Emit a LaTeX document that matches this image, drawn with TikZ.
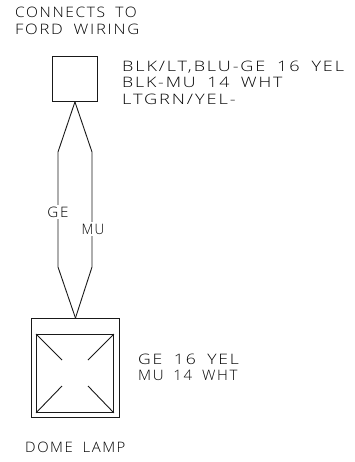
\documentclass[tikz,border=0pt]{standalone}
\usepackage{fontspec}
\usepackage{graphicx}
\setmainfont{Open Sans Light}[LetterSpace=12,WordSpace=1.8,FakeStretch=1.15]
\newcommand\fitx[2]{\scalebox{#1}[1]{#2}}
\tikzset{
  x=1pt,y=-1pt,
  wire/.style={line width=0.9pt,black!90,line join=round},
  box/.style={draw,rectangle,line width=0.9pt,black!90,inner sep=0pt,anchor=north west},
  lbl/.style={inner sep=0pt,anchor=base west,text=black,font=\fontsize{14.4}{16.5}\selectfont},
  wirelbl/.style={fill=white,inner sep=1.5pt,anchor=center,text=black,font=\fontsize{14.4}{16.5}\selectfont},
}
\begin{document}
\begin{tikzpicture}
\useasboundingbox (0,0) rectangle (354,462);
\node[box,minimum width=45pt,minimum height=45pt] (conn) at (52,56) {};
\node[box,minimum width=88pt,minimum height=99pt] (lamp) at (31,318) {};
\node[box,minimum width=77pt,minimum height=78pt] (bulb) at (36,334) {};
\coordinate (la) at (58,152);
\coordinate (lb) at (58,267);
\coordinate (ra) at (92,152);
\coordinate (rb) at (92,267);
\draw[wire] (conn.south) -- (la) -- (lb) -- (lamp.north);
\draw[wire] (conn.south) -- (ra) -- (rb) -- (lamp.north);
\node[wirelbl] (ge) at (58,212) {\fitx{.92}{GE}};
\node[wirelbl] (mu) at (93,229) {\fitx{.82}{MU}};
\coordinate (c1) at (62,360);
\coordinate (c2) at (88,360);
\coordinate (c3) at (62,386);
\coordinate (c4) at (88,386);
\draw[wire] (bulb.north west) -- (c1);
\draw[wire] (bulb.north east) -- (c2);
\draw[wire] (bulb.south west) -- (c3);
\draw[wire] (bulb.south east) -- (c4);
\node[lbl] (t1a) at (15,18) {\fitx{.94}{CONNECTS TO}};
\node[lbl] (t1b) at (15,35) {FORD WIRING};
\node[lbl] (t2a) at (122,72) {\fitx{1.09}{BLK/LT,BLU-GE 16 YEL}};
\node[lbl] (t2b) at (122,88) {\fitx{1.07}{BLK-MU 14 WHT}};
\node[lbl] (t2c) at (122,105) {\fitx{1.1}{LTGRN/YEL-}};
\node[lbl] (t3a) at (138,364) {\fitx{1.06}{GE 16 YEL}};
\node[lbl] (t3b) at (138,380) {\fitx{.91}{MU 14 WHT}};
\node[lbl] (t4) at (25,452) {\fitx{.9}{DOME LAMP}};
\end{tikzpicture}
\end{document}
